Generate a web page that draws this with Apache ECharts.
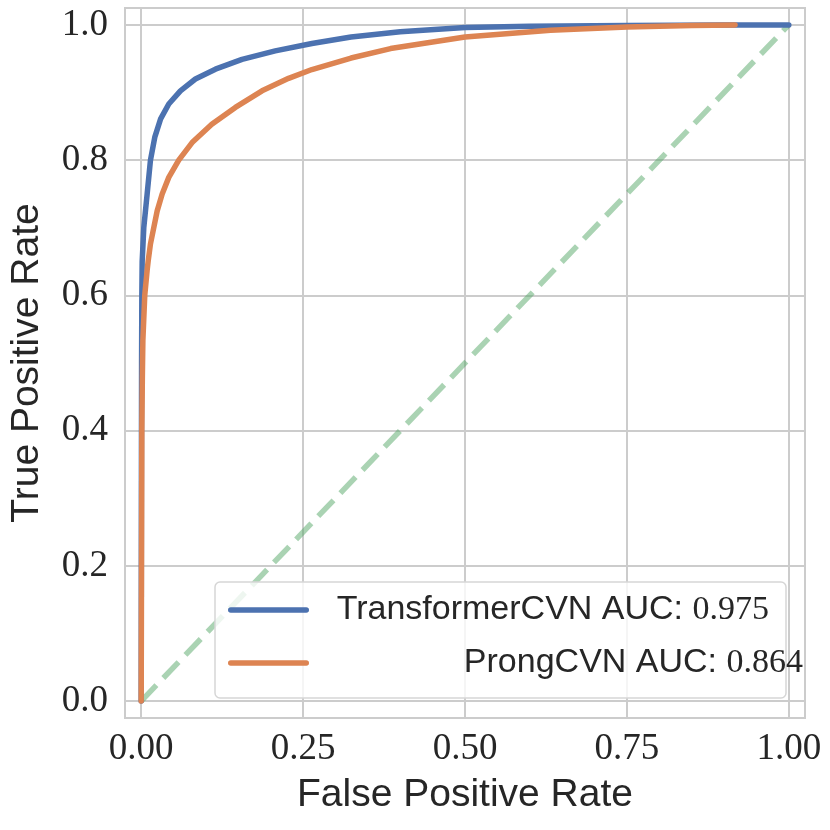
<!DOCTYPE html>
<html>
<head>
<meta charset="utf-8">
<script src="https://cdn.jsdelivr.net/npm/echarts@6/dist/echarts.min.js"></script>
<style>
	html, body { margin: 0; padding: 0; background: #fff; }
	#roc { width: 830px; height: 830px; }
</style>
</head>
<body>
<div id="roc"></div>
<script>
	// ROC 曲线数据
	var seriesNames = ['TransformerCVN', 'ProngCVN'];
	var aucValues = ['0.975', '0.864'];

	var fprTransformer = [0, 0.0003, 0.0006, 0.001, 0.0015, 0.004, 0.0092, 0.0143, 0.021, 0.030, 0.0426, 0.0606, 0.0837, 0.1146, 0.1557, 0.207, 0.2636, 0.324, 0.40, 0.5, 0.6, 0.75, 0.9, 1.0];
	var tprTransformer = [0, 0.3, 0.5, 0.6, 0.65, 0.70, 0.75, 0.80, 0.834, 0.861, 0.883, 0.9025, 0.920, 0.9345, 0.949, 0.9616, 0.9724, 0.982, 0.990, 0.996, 0.998, 0.9993, 0.9998, 1.0];

	var fprProng = [0, 0.0005, 0.001, 0.0018, 0.0026, 0.0055, 0.0092, 0.0108, 0.0143, 0.0194, 0.0247, 0.0324, 0.0426, 0.058, 0.0786, 0.109, 0.1454, 0.1866, 0.2276, 0.2636, 0.324, 0.385, 0.5, 0.632, 0.75, 0.85, 0.917];
	var tprProng = [0, 0.2, 0.4, 0.48, 0.533, 0.6, 0.637, 0.651, 0.676, 0.700, 0.725, 0.750, 0.7745, 0.800, 0.826, 0.853, 0.878, 0.9025, 0.921, 0.934, 0.951, 0.965, 0.982, 0.992, 0.997, 0.999, 1.0];

	var diagX = [0, 1];
	var diagY = [0, 1];

	var xTicks = [0, 0.25, 0.5, 0.75, 1.0];
	var yTicks = [0, 0.2, 0.4, 0.6, 0.8, 1.0];

	function zip(xs, ys) {
		var out = [];
		for (var i = 0; i < xs.length; i++) {
			out.push([xs[i], ys[i]]);
		}
		return out;
	}

	var serifFont = '"Liberation Serif", "DejaVu Serif", serif';
	var sansFont = '"Liberation Sans", Arial, sans-serif';
	var gridColor = '#cccccc';
	var textColor = '#262626';

	// 图例图标：圆头线段
	var pillIcon = 'path://M2.75,0H78.25A2.75,2.75,0,0,1,78.25,5.5H2.75A2.75,2.75,0,0,1,2.75,0Z';

	function setRocChart() {
		var option = {
			backgroundColor: '#fff',
			animation: false,
			grid: {
				left: 124,
				top: 8,
				right: 25,
				bottom: 112,
				show: true,
				borderColor: gridColor,
				borderWidth: 2,
				containLabel: false
			},
			xAxis: {
				type: 'value',
				min: -0.025,
				max: 1.025,
				name: 'False Positive Rate',
				nameLocation: 'middle',
				nameGap: 58,
				nameTextStyle: { fontFamily: sansFont, fontSize: 39, color: textColor },
				axisLine: { show: false },
				axisTick: { show: false, customValues: xTicks },
				axisLabel: {
					customValues: xTicks,
					margin: 13,
					fontFamily: serifFont,
					fontSize: 37,
					color: textColor,
					formatter: function (v) { return v.toFixed(2); }
				},
				splitLine: { show: true, lineStyle: { color: gridColor, width: 2 } }
			},
			yAxis: {
				type: 'value',
				min: -0.025,
				max: 1.025,
				name: 'True Positive Rate',
				nameLocation: 'middle',
				nameGap: 78,
				nameTextStyle: { fontFamily: sansFont, fontSize: 39, color: textColor },
				axisLine: { show: false },
				axisTick: { show: false, customValues: yTicks },
				axisLabel: {
					customValues: yTicks,
					margin: 17,
					fontFamily: serifFont,
					fontSize: 37,
					color: textColor,
					formatter: function (v) { return v.toFixed(1); }
				},
				splitLine: { show: true, lineStyle: { color: gridColor, width: 2 } }
			},
			legend: {
				orient: 'vertical',
				left: 228,
				top: 590,
				padding: 0,
				itemGap: 13,
				itemWidth: 81,
				itemHeight: 5.5,
				icon: pillIcon,
				selectedMode: false,
				textStyle: {
					lineHeight: 40,
					rich: {
						s: { fontFamily: sansFont, fontSize: 34, color: textColor, align: 'right', lineHeight: 40 },
						n: { fontFamily: serifFont, fontSize: 34, color: textColor, align: 'right', lineHeight: 40 }
					}
				},
				data: [
					{ name: seriesNames[0], textStyle: { width: 455 } },
					{ name: seriesNames[1], textStyle: { width: 489 } }
				],
				formatter: function (name) {
					var i = seriesNames.indexOf(name);
					return '{s|' + name + ' AUC: }{n|' + aucValues[i] + '}';
				},
				z: 5
			},
			graphic: [
				{
					type: 'rect',
					z: 3,
					shape: { x: 215, y: 582, width: 571, height: 116, r: 5 },
					style: { fill: 'rgba(255,255,255,0.8)', stroke: '#d6d6d6', lineWidth: 1.5 }
				}
			],
			series: [
				{
					name: 'chance',
					type: 'line',
					data: zip(diagX, diagY),
					symbol: 'none',
					lineStyle: { color: 'rgba(85,168,104,0.5)', width: 5.5, type: [22, 10] },
					z: 1
				},
				{
					name: seriesNames[0],
					type: 'line',
					data: zip(fprTransformer, tprTransformer),
					symbol: 'none',
					color: '#4c72b0',
					lineStyle: { color: '#4c72b0', width: 5.5, cap: 'round', join: 'round' },
					z: 2
				},
				{
					name: seriesNames[1],
					type: 'line',
					data: zip(fprProng, tprProng),
					symbol: 'none',
					color: '#dd8452',
					lineStyle: { color: '#dd8452', width: 5.5, cap: 'round', join: 'round' },
					z: 2
				}
			]
		};

		var chart = echarts.init(document.getElementById('roc'));
		chart.setOption(option);
	}

	setRocChart();
</script>
</body>
</html>
